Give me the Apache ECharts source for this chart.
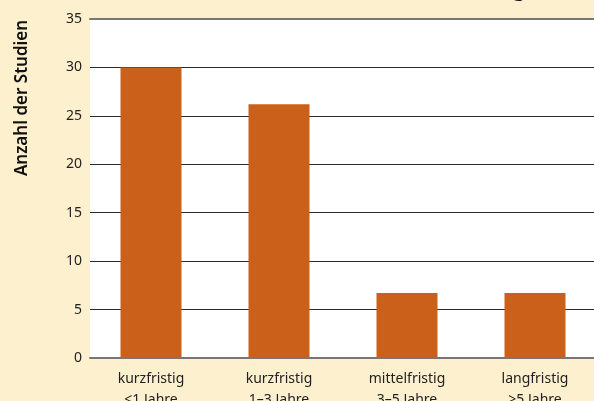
<!DOCTYPE html>
<html>
<head>
<meta charset="utf-8">
<script src="https://cdn.jsdelivr.net/npm/echarts@6/dist/echarts.min.js"></script>
<style>
  html, body { margin: 0; padding: 0; background: #fdf0cf; }
  #chart { width: 594px; height: 401px; }
</style>
</head>
<body>
<div id="chart"></div>
<script>
const categories = [
  "kurzfristig\n<1 Jahre",
  "kurzfristig\n1–3 Jahre",
  "mittelfristig\n3–5 Jahre",
  "langfristig\n>5 Jahre"
];
const studies = [30, 26.2, 6.7, 6.7];
const yTicks = { min: 0, max: 35, step: 5 };

const chart = echarts.init(document.getElementById("chart"), null, { renderer: "canvas" });
const font = "'Noto Sans', 'Open Sans', sans-serif";
const lineGray = "#777";

chart.setOption({
  backgroundColor: "#fdf0cf",
  animation: false,
  textStyle: { fontFamily: font },
  grid: [
    // white plot box with the y axis
    { left: 90, right: 0, top: 19, bottom: 43, show: true, backgroundColor: "#fff", borderWidth: 0, outerBoundsMode: "none" },
    // bars sit on a slightly wider band that runs past the right edge
    { left: 87, width: 512, top: 19, bottom: 43, outerBoundsMode: "none" }
  ],
  xAxis: [
    {
      gridIndex: 0, type: "category", data: categories, position: "bottom",
      axisLine: { lineStyle: { color: lineGray, width: 2 } },
      axisTick: { show: false }, axisLabel: { show: false }, splitLine: { show: false }
    },
    {
      gridIndex: 0, type: "category", data: categories, position: "top",
      axisLine: { lineStyle: { color: lineGray, width: 2 } },
      axisTick: { show: false }, axisLabel: { show: false }, splitLine: { show: false }
    },
    {
      gridIndex: 1, type: "category", data: categories,
      axisLine: { show: false }, axisTick: { show: false },
      axisLabel: { color: "#222", fontSize: 14, lineHeight: 21, margin: 10.5, interval: 0 }
    }
  ],
  yAxis: [
    {
      gridIndex: 0, type: "value", min: yTicks.min, max: yTicks.max, interval: yTicks.step,
      axisLine: { show: false }, axisTick: { show: false },
      axisLabel: { color: "#222", fontSize: 14, margin: 8 },
      splitLine: { lineStyle: { color: "#2a2a2a", width: 1 } }
    },
    {
      gridIndex: 1, type: "value", min: yTicks.min, max: yTicks.max, show: false
    }
  ],
  graphic: [
    {
      type: "text", x: 22, y: 98, rotation: Math.PI / 2,
      style: {
        text: "Anzahl der Studien", fill: "#111",
        font: "600 17px " + font, align: "center", verticalAlign: "middle"
      }
    },
    {
      type: "text", x: 513, y: -19.6,
      style: { text: "g", fill: "#111", font: "bold 20px " + font }
    }
  ],
  series: [{
    type: "bar", xAxisIndex: 2, yAxisIndex: 1,
    barWidth: 61,
    itemStyle: { color: "#cb601a" },
    data: studies
  }]
});
</script>
</body>
</html>
